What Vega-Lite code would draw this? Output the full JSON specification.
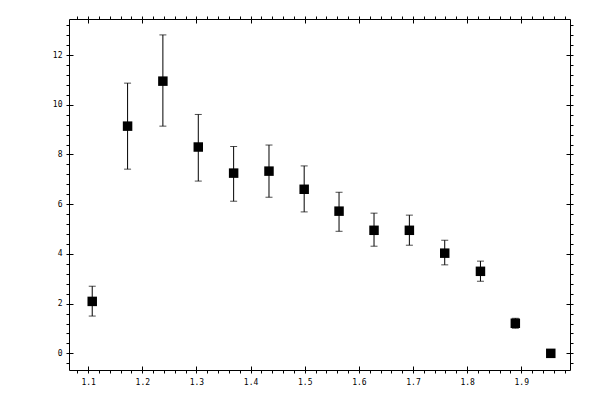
{
  "$schema": "https://vega.github.io/schema/vega-lite/v6.json",
  "width": 501,
  "height": 351,
  "autosize": {"type": "none"},
  "padding": {"left": 69, "top": 19, "right": 30, "bottom": 30},
  "background": "white",
  "data": {
    "values": [
      {"x": 1.1075, "y": 2.09, "lo": 1.50, "hi": 2.70},
      {"x": 1.1728, "y": 9.14, "lo": 7.41, "hi": 10.87},
      {"x": 1.2380, "y": 10.95, "lo": 9.14, "hi": 12.81},
      {"x": 1.3034, "y": 8.30, "lo": 6.93, "hi": 9.61},
      {"x": 1.3687, "y": 7.25, "lo": 6.12, "hi": 8.32},
      {"x": 1.4340, "y": 7.33, "lo": 6.28, "hi": 8.38},
      {"x": 1.4990, "y": 6.60, "lo": 5.69, "hi": 7.54},
      {"x": 1.5634, "y": 5.72, "lo": 4.91, "hi": 6.48},
      {"x": 1.6280, "y": 4.95, "lo": 4.31, "hi": 5.64},
      {"x": 1.6933, "y": 4.95, "lo": 4.35, "hi": 5.56},
      {"x": 1.7586, "y": 4.03, "lo": 3.56, "hi": 4.55},
      {"x": 1.8246, "y": 3.30, "lo": 2.90, "hi": 3.71},
      {"x": 1.8890, "y": 1.21, "lo": 1.01, "hi": 1.41},
      {"x": 1.9545, "y": 0.00, "lo": 0.00, "hi": 0.00}
    ]
  },
  "layer": [
    {
      "mark": {"type": "rule", "color": "black", "strokeWidth": 1},
      "encoding": {
        "x": {
          "field": "x", "type": "quantitative",
          "scale": {"domain": [1.0646, 1.99], "nice": false, "zero": false},
          "axis": {
            "orient": "bottom", "tickSize": 3, "labelPadding": 5,
            "values": [1.08, 1.1, 1.12, 1.14, 1.16, 1.18, 1.2, 1.22, 1.24, 1.26, 1.28, 1.3, 1.32, 1.34, 1.36, 1.38, 1.4, 1.42, 1.44, 1.46, 1.48, 1.5, 1.52, 1.54, 1.56, 1.58, 1.6, 1.62, 1.64, 1.66, 1.68, 1.7, 1.72, 1.74, 1.76, 1.78, 1.8, 1.82, 1.84, 1.86, 1.88, 1.9, 1.92, 1.94, 1.96, 1.98],
            "labelExpr": "abs(datum.value * 10 - round(datum.value * 10)) < 0.001 ? format(datum.value, '.1f') : ''"
          }
        },
        "y": {
          "field": "lo", "type": "quantitative",
          "scale": {"domain": [-0.67, 13.45], "nice": false, "zero": false},
          "axis": {
            "orient": "left", "tickSize": 3, "labelPadding": 4,
            "values": [-0.4, 0, 0.4, 0.8, 1.2, 1.6, 2, 2.4, 2.8, 3.2, 3.6, 4, 4.4, 4.8, 5.2, 5.6, 6, 6.4, 6.8, 7.2, 7.6, 8, 8.4, 8.8, 9.2, 9.6, 10, 10.4, 10.8, 11.2, 11.6, 12, 12.4, 12.8, 13.2],
            "labelExpr": "datum.value % 2 == 0 ? format(datum.value, 'd') : ''"
          }
        },
        "y2": {"field": "hi"}
      }
    },
    {
      "mark": {"type": "tick", "orient": "horizontal", "color": "black", "size": 7, "thickness": 1},
      "encoding": {
        "x": {
          "field": "x", "type": "quantitative",
          "scale": {"domain": [1.0646, 1.99], "nice": false, "zero": false},
          "axis": {"orient": "bottom", "tickSize": -4, "labels": false, "values": [1.1, 1.2, 1.3, 1.4, 1.5, 1.6, 1.7, 1.8, 1.9]}
        },
        "y": {
          "field": "hi", "type": "quantitative",
          "scale": {"domain": [-0.67, 13.45], "nice": false, "zero": false},
          "axis": {"orient": "left", "tickSize": -4, "labels": false, "values": [0, 2, 4, 6, 8, 10, 12]}
        }
      }
    },
    {
      "mark": {"type": "tick", "orient": "horizontal", "color": "black", "size": 7, "thickness": 1},
      "encoding": {
        "x": {
          "field": "x", "type": "quantitative",
          "scale": {"domain": [1.0646, 1.99], "nice": false, "zero": false},
          "axis": {
            "orient": "top", "tickSize": 3, "labels": false,
            "values": [1.08, 1.1, 1.12, 1.14, 1.16, 1.18, 1.2, 1.22, 1.24, 1.26, 1.28, 1.3, 1.32, 1.34, 1.36, 1.38, 1.4, 1.42, 1.44, 1.46, 1.48, 1.5, 1.52, 1.54, 1.56, 1.58, 1.6, 1.62, 1.64, 1.66, 1.68, 1.7, 1.72, 1.74, 1.76, 1.78, 1.8, 1.82, 1.84, 1.86, 1.88, 1.9, 1.92, 1.94, 1.96, 1.98]
          }
        },
        "y": {
          "field": "lo", "type": "quantitative",
          "scale": {"domain": [-0.67, 13.45], "nice": false, "zero": false},
          "axis": {
            "orient": "right", "tickSize": 3, "labels": false,
            "values": [-0.4, 0, 0.4, 0.8, 1.2, 1.6, 2, 2.4, 2.8, 3.2, 3.6, 4, 4.4, 4.8, 5.2, 5.6, 6, 6.4, 6.8, 7.2, 7.6, 8, 8.4, 8.8, 9.2, 9.6, 10, 10.4, 10.8, 11.2, 11.6, 12, 12.4, 12.8, 13.2]
          }
        }
      }
    },
    {
      "mark": {"type": "square", "color": "black", "filled": true, "opacity": 1, "size": 90},
      "encoding": {
        "x": {
          "field": "x", "type": "quantitative",
          "scale": {"domain": [1.0646, 1.99], "nice": false, "zero": false},
          "axis": {"orient": "top", "tickSize": -4, "labels": false, "values": [1.1, 1.2, 1.3, 1.4, 1.5, 1.6, 1.7, 1.8, 1.9]}
        },
        "y": {
          "field": "y", "type": "quantitative",
          "scale": {"domain": [-0.67, 13.45], "nice": false, "zero": false},
          "axis": {"orient": "right", "tickSize": -4, "labels": false, "values": [0, 2, 4, 6, 8, 10, 12]}
        }
      }
    }
  ],
  "resolve": {"axis": {"x": "independent", "y": "independent"}},
  "config": {
    "view": {"stroke": "black", "strokeWidth": 1},
    "axis": {
      "title": null,
      "grid": false,
      "domain": false,
      "tickColor": "black",
      "tickWidth": 1,
      "labelFont": "DejaVu Sans Mono",
      "labelFontSize": 8,
      "labelColor": "black",
      "labelOverlap": false,
      "labelFlush": false
    }
  }
}
